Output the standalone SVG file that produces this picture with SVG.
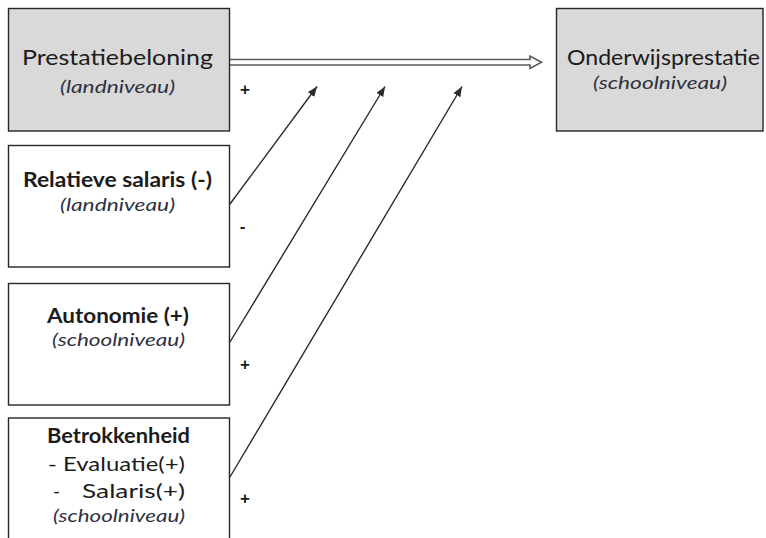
<svg xmlns="http://www.w3.org/2000/svg" width="766" height="538" viewBox="0 0 766 538">
<style>
.box{stroke:#262626;stroke-width:1.4}
.grey{fill:#d9d9d9}
.white{fill:#ffffff}
.t{font-family:Lato,"Open Sans","Liberation Sans",sans-serif;fill:#1c1c1c;text-anchor:start}
.title{font-size:22px}
.bold{font-size:20px;font-weight:bold}
.it{font-size:18px;font-style:italic;fill:#2e3140}
.item{font-size:19px}
.sign{font-family:"Liberation Sans",Arial,sans-serif;font-size:17px;font-weight:bold;fill:#1c1c1c;text-anchor:middle}
.conn{stroke:#2b2b2b;stroke-width:1.4;fill:none}
</style>
<defs>
<marker id="ah" markerUnits="userSpaceOnUse" markerWidth="12" markerHeight="10" refX="10" refY="4" orient="auto">
<path d="M0,0 L10,4 L0,8 Z" fill="#2b2b2b"/>
</marker>
</defs>
<rect width="766" height="538" fill="#ffffff"/>
<g id="connectors">
<path d="M229.5,59.5 H530 V56 L541.5,62.3 L530,68.5 V65 H229.5" fill="#ffffff" stroke="#5a5a5a" stroke-width="1.6" stroke-linejoin="miter"/>
<line class="conn" x1="230" y1="204" x2="317" y2="86.5" marker-end="url(#ah)"/>
<line class="conn" x1="230" y1="342" x2="385" y2="86.5" marker-end="url(#ah)"/>
<line class="conn" x1="230" y1="477" x2="462" y2="86.5" marker-end="url(#ah)"/>
<text class="sign" x="245" y="95">+</text>
<text class="sign" x="242.5" y="231.5">-</text>
<text class="sign" x="245" y="370">+</text>
<text class="sign" x="245" y="504">+</text>
</g>
<g id="prestatiebeloning">
<rect class="box grey" x="8.5" y="8.5" width="221" height="122.5"/>
<text class="t title" x="22" y="65" textLength="191" lengthAdjust="spacingAndGlyphs">Prestatiebeloning</text>
<text class="t it" x="60" y="93" textLength="115" lengthAdjust="spacingAndGlyphs">(landniveau)</text>
</g>
<g id="onderwijsprestatie">
<rect class="box grey" x="556.5" y="8.5" width="206.5" height="122.5"/>
<text class="t title" x="567" y="65" textLength="193" lengthAdjust="spacingAndGlyphs">Onderwijsprestatie</text>
<text class="t it" x="593" y="89" textLength="134" lengthAdjust="spacingAndGlyphs">(schoolniveau)</text>
</g>
<g id="relatieve-salaris">
<rect class="box white" x="8.5" y="145.5" width="221" height="121.5"/>
<text class="t bold" x="23" y="187" textLength="189" lengthAdjust="spacingAndGlyphs">Relatieve salaris (-)</text>
<text class="t it" x="60" y="211" textLength="115" lengthAdjust="spacingAndGlyphs">(landniveau)</text>
</g>
<g id="autonomie">
<rect class="box white" x="8.5" y="283.5" width="221" height="121.5"/>
<text class="t bold" x="47" y="322.5" textLength="142" lengthAdjust="spacingAndGlyphs">Autonomie  (+)</text>
<text class="t it" x="52" y="346" textLength="133" lengthAdjust="spacingAndGlyphs">(schoolniveau)</text>
</g>
<g id="betrokkenheid">
<rect class="box white" x="8.5" y="418" width="221" height="130"/>
<text class="t bold" x="47" y="442.5" textLength="143" lengthAdjust="spacingAndGlyphs">Betrokkenheid</text>
<text class="t item" x="48" y="471" textLength="137" lengthAdjust="spacingAndGlyphs">- Evaluatie(+)</text>
<text class="t item" y="498"><tspan x="53">-</tspan><tspan x="82" textLength="103" lengthAdjust="spacingAndGlyphs">Salaris(+)</tspan></text>
<text class="t it" x="53" y="522" textLength="132" lengthAdjust="spacingAndGlyphs">(schoolniveau)</text>
</g>
</svg>
